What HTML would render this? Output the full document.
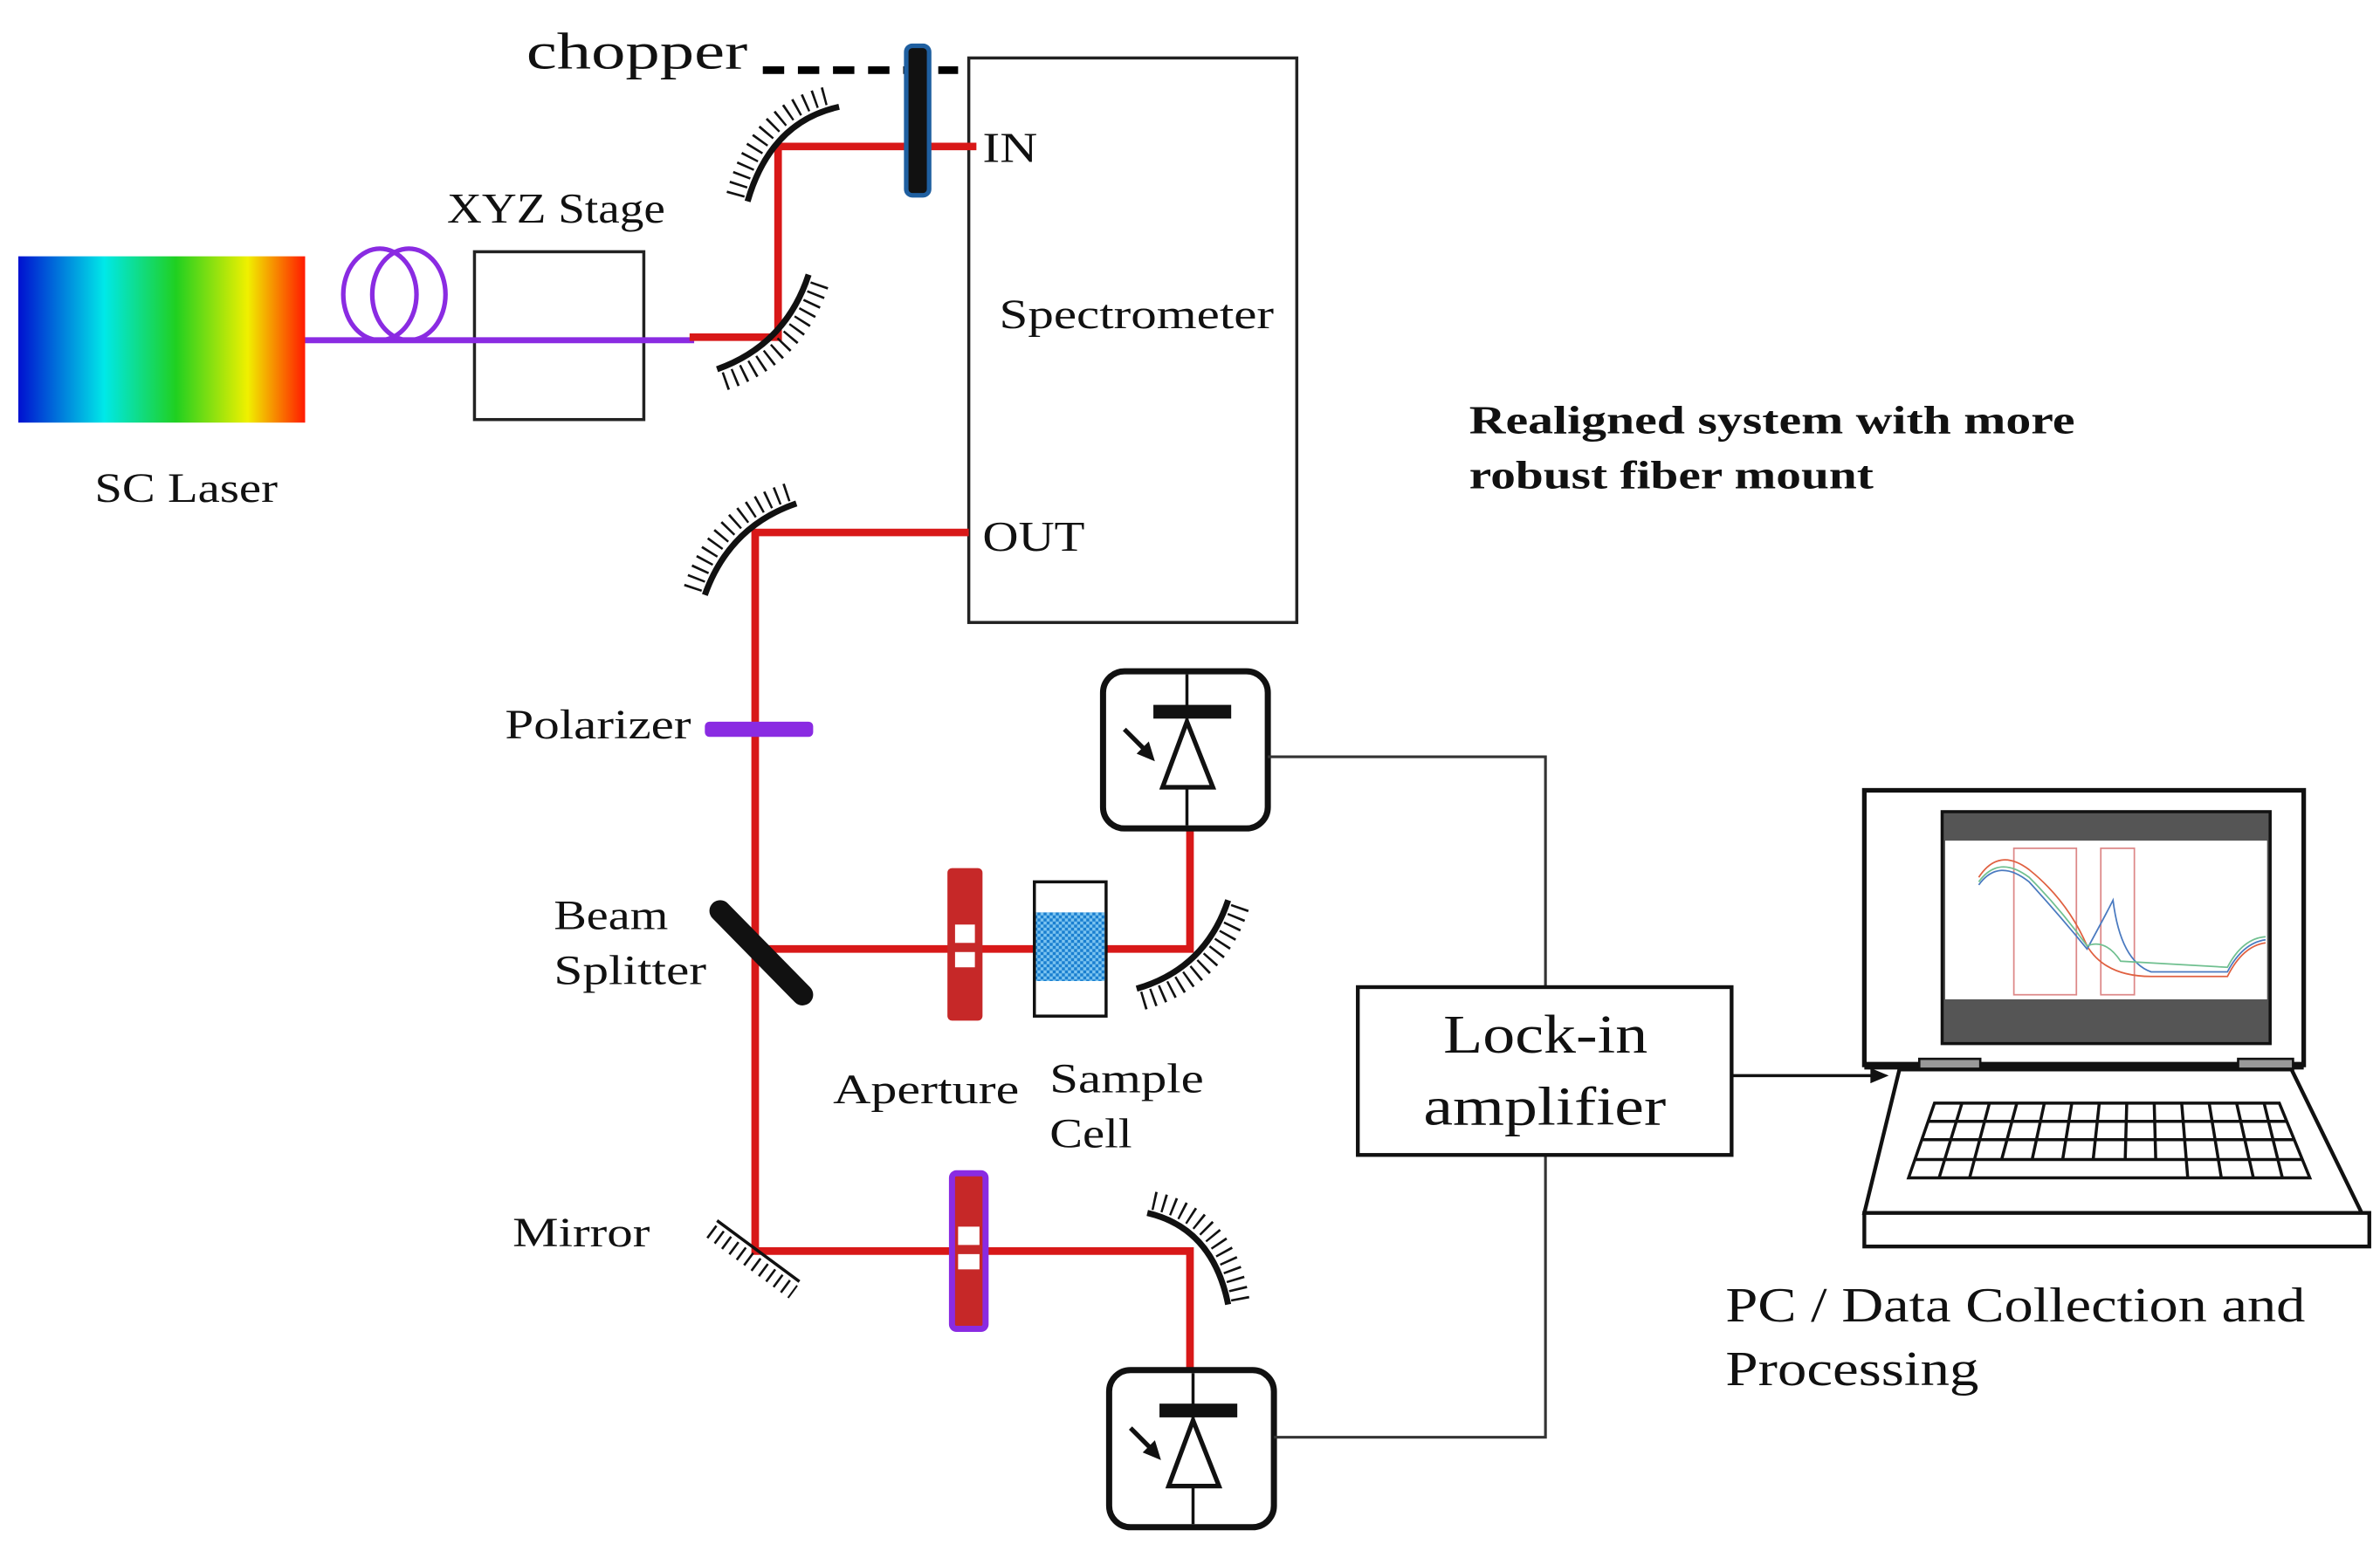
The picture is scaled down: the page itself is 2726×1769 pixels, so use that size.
<!DOCTYPE html>
<html><head><meta charset="utf-8"><style>
html,body{margin:0;padding:0;background:#fff;}
svg{display:block}
text{font-family:"Liberation Serif",serif;fill:#111}
</style></head><body>
<svg width="2726" height="1769" viewBox="0 0 1560 1012" preserveAspectRatio="none" xmlns="http://www.w3.org/2000/svg">
<defs>
<linearGradient id="spec" x1="0" x2="1" y1="0" y2="0">
<stop offset="0" stop-color="#0010d0"/><stop offset="0.3" stop-color="#00e8e8"/>
<stop offset="0.55" stop-color="#20d020"/><stop offset="0.8" stop-color="#f0f000"/>
<stop offset="1" stop-color="#ff1a00"/></linearGradient>
<pattern id="chk" width="4" height="4" patternUnits="userSpaceOnUse">
<rect width="4" height="4" fill="#1a7fd0"/><rect width="2" height="2" fill="#7cc4f0"/><rect x="2" y="2" width="2" height="2" fill="#7cc4f0"/></pattern>
</defs>
<rect width="1560" height="1012" fill="#fff"/>

<!-- chopper -->
<text x="345" y="45" font-size="34" textLength="145" lengthAdjust="spacingAndGlyphs">chopper</text>
<line x1="500" y1="46" x2="628" y2="46" stroke="#000" stroke-width="5" stroke-dasharray="14 9"/>

<!-- Spectrometer -->
<rect x="635" y="38" width="215" height="370" fill="none" stroke="#222" stroke-width="2"/>
<text x="655" y="215" font-size="27" textLength="180" lengthAdjust="spacingAndGlyphs">Spectrometer</text>
<text x="644" y="106" font-size="28" textLength="36" lengthAdjust="spacingAndGlyphs">IN</text>
<text x="644" y="361" font-size="28" textLength="67" lengthAdjust="spacingAndGlyphs">OUT</text>

<!-- laser -->
<rect x="12" y="168" width="188" height="109" fill="url(#spec)"/>
<text x="62" y="329" font-size="27" textLength="120" lengthAdjust="spacingAndGlyphs">SC Laser</text>
<rect x="311" y="165" width="111" height="110" fill="none" stroke="#222" stroke-width="2"/>
<text x="293" y="146" font-size="28" textLength="143" lengthAdjust="spacingAndGlyphs">XYZ Stage</text>
<line x1="200" y1="223" x2="455" y2="223" stroke="#8a2be2" stroke-width="4"/>
<ellipse cx="249" cy="193" rx="24" ry="30" fill="none" stroke="#8a2be2" stroke-width="3"/>
<ellipse cx="268" cy="193" rx="24" ry="30" fill="none" stroke="#8a2be2" stroke-width="3"/>

<!-- beams -->
<g stroke="#d81818" stroke-width="5" fill="none">
<polyline points="452,221 510,221 510,96 640,96"/>
<polyline points="635,349 495,349 495,820 780,820 780,900"/>
<polyline points="497,622 780,622 780,543"/>
</g>

<!-- chopper blade -->
<rect x="594" y="30" width="15" height="98" rx="4" fill="#111" stroke="#1f5fa0" stroke-width="3"/>

<!-- mirrors -->
<g fill="none" stroke="#111">
<path d="M490,132 Q505,80 550,70" stroke-width="4"/>
<path d="M482,128 Q497,72 545,62" stroke-width="12" stroke-dasharray="1.5 5"/>
<path d="M470,242 Q515,226 530,180" stroke-width="4"/>
<path d="M475,250 Q522,234 538,184" stroke-width="12" stroke-dasharray="1.5 5"/>
<path d="M462,390 Q478,345 522,330" stroke-width="4"/>
<path d="M454,386 Q470,337 518,322" stroke-width="12" stroke-dasharray="1.5 5"/>
<path d="M470,800 L524,840" stroke-width="2"/>
<path d="M466,807 L520,847" stroke-width="10" stroke-dasharray="1.5 4.5"/>
<path d="M745,648 Q790,635 805,590" stroke-width="4"/>
<path d="M749,656 Q797,642 813,594" stroke-width="12" stroke-dasharray="1.5 5"/>
<path d="M752,795 Q795,805 805,855" stroke-width="4"/>
<path d="M756,787 Q803,797 813,852" stroke-width="12" stroke-dasharray="1.5 5"/>
</g>
<line x1="472" y1="597" x2="526" y2="652" stroke="#111" stroke-width="14" stroke-linecap="round"/>

<!-- polarizer -->
<rect x="462" y="473" width="71" height="10" rx="3" fill="#8a2be2"/>
<text x="331" y="484" font-size="27" textLength="122" lengthAdjust="spacingAndGlyphs">Polarizer</text>
<text x="363" y="609" font-size="27" textLength="75" lengthAdjust="spacingAndGlyphs">Beam</text>
<text x="363" y="645" font-size="27" textLength="100" lengthAdjust="spacingAndGlyphs">Splitter</text>
<text x="336" y="817" font-size="27" textLength="90" lengthAdjust="spacingAndGlyphs">Mirror</text>

<!-- aperture -->
<rect x="621" y="569" width="23" height="100" rx="3" fill="#c62828"/>
<rect x="626" y="606" width="13" height="12" fill="#fff"/>
<rect x="626" y="624" width="13" height="10" fill="#fff"/>
<!-- sample cell -->
<rect x="678" y="578" width="47" height="88" fill="#fff" stroke="#111" stroke-width="2"/>
<rect x="679" y="598" width="45" height="45" fill="url(#chk)"/>
<text x="546" y="723" font-size="27" textLength="122" lengthAdjust="spacingAndGlyphs">Aperture</text>
<text x="688" y="716" font-size="27" textLength="101" lengthAdjust="spacingAndGlyphs">Sample</text>
<text x="688" y="752" font-size="27" textLength="54" lengthAdjust="spacingAndGlyphs">Cell</text>

<!-- purple aperture -->
<rect x="624" y="769" width="22" height="102" rx="3" fill="#c62828" stroke="#8a2be2" stroke-width="4"/>
<rect x="628" y="804" width="14" height="12" fill="#fff"/>
<rect x="628" y="822" width="14" height="10" fill="#fff"/>

<!-- detectors -->
<g id="det1">
<rect x="723" y="440" width="108" height="103" rx="14" fill="#fff" stroke="#111" stroke-width="4"/>
<line x1="778" y1="442" x2="778" y2="541" stroke="#111" stroke-width="2"/>
<rect x="756" y="462" width="51" height="9" fill="#111"/>
<polygon points="778,473 762,516 795,516" fill="#fff" stroke="#111" stroke-width="3"/>
<line x1="737" y1="478" x2="752" y2="493" stroke="#111" stroke-width="3"/>
<polygon points="757,499 745,494 753,486" fill="#111"/>
</g>
<use href="#det1" transform="translate(4,458)"/>

<!-- wires -->
<polyline points="831,496 1013,496 1013,647" fill="none" stroke="#333" stroke-width="1.8"/>
<polyline points="835,942 1013,942 1013,757" fill="none" stroke="#333" stroke-width="1.8"/>
<rect x="890" y="647" width="245" height="110" fill="#fff" stroke="#111" stroke-width="2.5"/>
<text x="946" y="690" font-size="36" textLength="134" lengthAdjust="spacingAndGlyphs">Lock-in</text>
<text x="933" y="737" font-size="36" textLength="159" lengthAdjust="spacingAndGlyphs">amplifier</text>
<line x1="1135" y1="705" x2="1228" y2="705" stroke="#111" stroke-width="2"/>
<polygon points="1238,705 1226,700 1226,710" fill="#111"/>

<text x="963" y="284" font-size="26" font-weight="bold" textLength="397" lengthAdjust="spacingAndGlyphs">Realigned system with more</text>
<text x="963" y="320" font-size="26" font-weight="bold" textLength="265" lengthAdjust="spacingAndGlyphs">robust fiber mount</text>

<!-- laptop -->
<rect x="1222" y="518" width="288" height="180" fill="#fff" stroke="#111" stroke-width="3"/>
<rect x="1273" y="532" width="215" height="152" fill="#555" stroke="#111" stroke-width="2"/>
<rect x="1275" y="551" width="211" height="104" fill="#fff"/>
<g fill="none" stroke-width="1">
<rect x="1320" y="556" width="41" height="96" stroke="#d88"/>
<rect x="1377" y="556" width="22" height="96" stroke="#d88"/>
<path d="M1297,575 Q1310,555 1330,570 Q1355,590 1368,620 Q1380,640 1410,640 L1460,640 Q1470,620 1485,618" stroke="#e06040"/>
<path d="M1297,580 Q1310,562 1330,578 Q1350,600 1368,622 Q1380,600 1385,590 Q1390,630 1410,637 L1460,637 Q1470,618 1485,616" stroke="#4a7ac0"/>
<path d="M1297,578 Q1310,560 1330,575 Q1350,595 1368,620 Q1380,615 1390,630 L1460,634 Q1470,615 1485,614" stroke="#70c090"/>
</g>
<rect x="1222" y="696" width="288" height="5" fill="#111"/>
<rect x="1258" y="694" width="40" height="9" fill="#999" stroke="#111" stroke-width="1.5"/>
<rect x="1467" y="694" width="36" height="9" fill="#999" stroke="#111" stroke-width="1.5"/>
<polygon points="1245,701 1502,701 1548,795 1222,795" fill="#fff" stroke="#111" stroke-width="2.5"/>
<rect x="1222" y="795" width="331" height="22" fill="#fff" stroke="#111" stroke-width="2.5"/>
<g fill="none" stroke="#111" stroke-width="2">
<polygon points="1268,723 1494,723 1514,772 1251,772"/>
<line x1="1264" y1="735" x2="1499" y2="735"/><line x1="1260" y1="747" x2="1504" y2="747"/><line x1="1255" y1="760" x2="1509" y2="760"/>
<line x1="1286" y1="723" x2="1271" y2="772"/><line x1="1304" y1="723" x2="1291" y2="772"/>
<line x1="1322" y1="723" x2="1312" y2="760"/><line x1="1340" y1="723" x2="1332" y2="760"/>
<line x1="1358" y1="723" x2="1352" y2="760"/><line x1="1376" y1="723" x2="1372" y2="760"/>
<line x1="1394" y1="723" x2="1393" y2="760"/><line x1="1412" y1="723" x2="1413" y2="760"/>
<line x1="1430" y1="723" x2="1434" y2="772"/><line x1="1448" y1="723" x2="1456" y2="772"/>
<line x1="1466" y1="723" x2="1477" y2="772"/><line x1="1484" y1="723" x2="1496" y2="772"/>
</g>
<text x="1131" y="866" font-size="32" textLength="380" lengthAdjust="spacingAndGlyphs">PC / Data Collection and</text>
<text x="1131" y="908" font-size="32" textLength="166" lengthAdjust="spacingAndGlyphs">Processing</text>
</svg>
</body></html>
